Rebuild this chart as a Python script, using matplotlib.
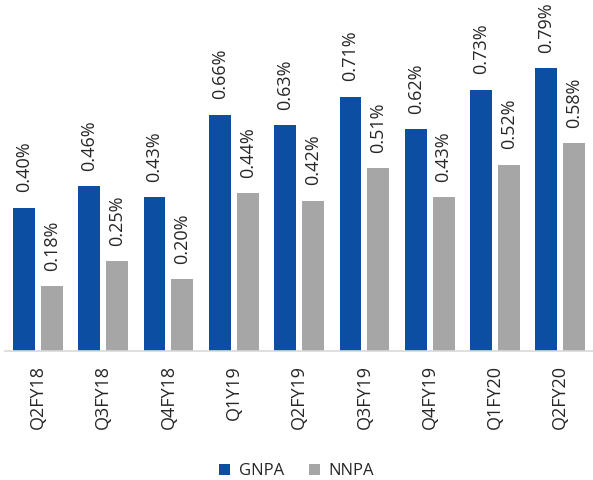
import numpy as np
import matplotlib
matplotlib.use("Agg")
import matplotlib.pyplot as plt

quarters = ["Q2FY18", "Q3FY18", "Q4FY18", "Q1Y19", "Q2FY19",
            "Q3FY19", "Q4FY19", "Q1FY20", "Q2FY20"]
gnpa = [0.40, 0.46, 0.43, 0.66, 0.63, 0.71, 0.62, 0.73, 0.79]
nnpa = [0.18, 0.25, 0.20, 0.44, 0.42, 0.51, 0.43, 0.52, 0.58]

plt.rcParams['font.family'] = ['Open Sans', 'DejaVu Sans']

fig = plt.figure(figsize=(5.93, 4.8), dpi=100)
ax = fig.add_axes([0.0087, 0.269, 0.9913, 0.731])

x = np.arange(len(quarters))
w = 0.335
off = 0.213
b1 = ax.bar(x - off, gnpa, w, color="#0B4EA2", label="GNPA")
b2 = ax.bar(x + off, nnpa, w, color="#A6A6A6", label="NNPA")

for bars, vals in ((b1, gnpa), (b2, nnpa)):
    for b, v in zip(bars, vals):
        ax.annotate(f"{v:.2f}%", (b.get_x() + b.get_width() / 2, v),
                    xytext=(0, 11), textcoords="offset points",
                    rotation=90, ha="center", va="bottom",
                    fontsize=13, color="#262626")

ax.set_xlim(-0.5, len(quarters) - 0.5)
ax.set_ylim(0, 0.98)
ax.set_yticks([])
ax.set_xticks(x)
ax.set_xticklabels(quarters, rotation=90, fontsize=13, color="#262626")
ax.tick_params(axis="x", length=0, pad=10)
for s in ["top", "right", "left"]:
    ax.spines[s].set_visible(False)
ax.spines["bottom"].set_color("#D9D9D9")
ax.spines["bottom"].set_linewidth(1.2)

fig.legend(handles=[b1, b2], loc="lower center", ncol=2, frameon=False,
           bbox_to_anchor=(0.5, -0.03), fontsize=12, handlelength=0.7,
           handleheight=0.7, columnspacing=1.5, handletextpad=0.5,
           labelcolor="#262626")

fig.savefig("out.png", dpi=100)
